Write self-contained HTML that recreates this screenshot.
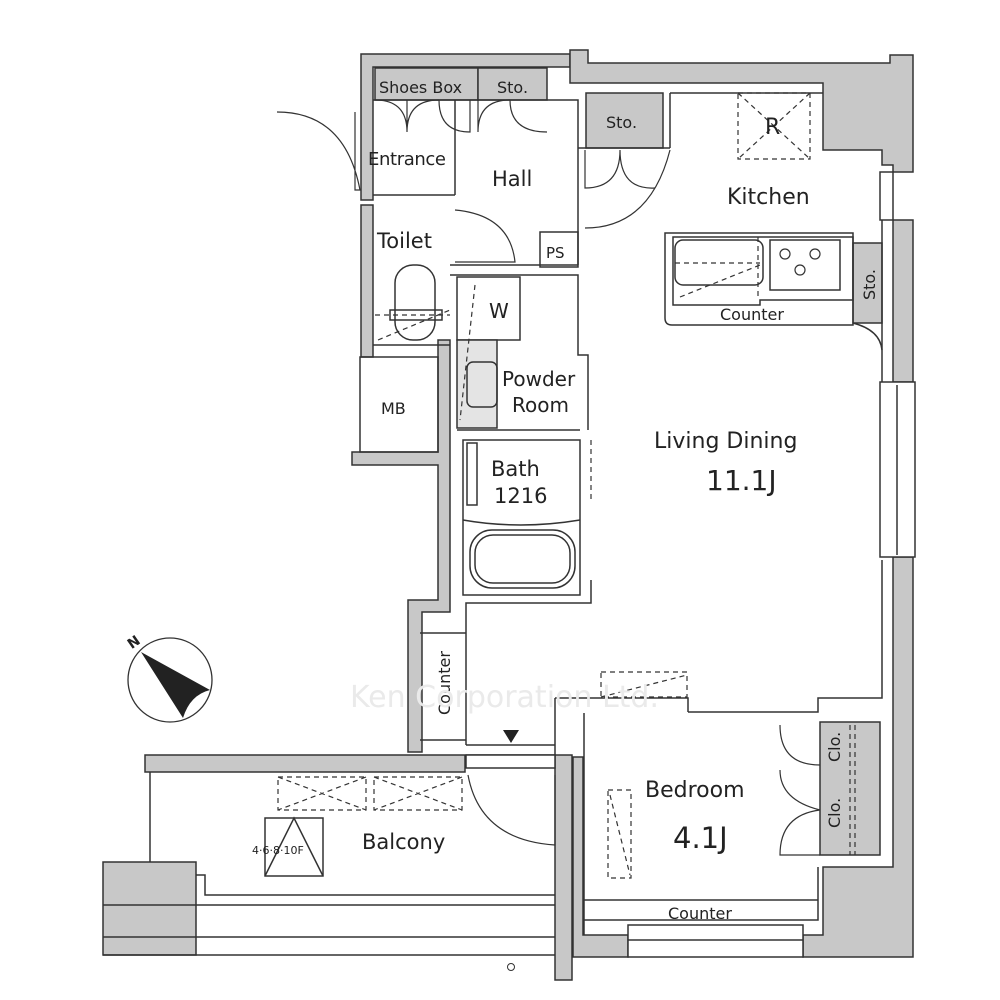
<!DOCTYPE html>
<html><head><meta charset="utf-8"><style>
html,body{margin:0;padding:0;background:#fff;width:1000px;height:1000px;overflow:hidden}
svg{display:block}
text{font-family:"DejaVu Sans","Liberation Sans",sans-serif;fill:#222}
</style></head><body>
<svg width="1000" height="1000" viewBox="0 0 1000 1000" xmlns="http://www.w3.org/2000/svg">
<g stroke="#333" stroke-width="1.5" fill="none">
<!-- gray walls -->
<g fill="#c8c8c8">
<path d="M361,54 H570 V67 H373 V200 H361 Z"/>
<path d="M570,50 H588 V63 H890 V55 H913 V172 H893 V165 H882 V150 H823 V83 H570 Z"/>
<path d="M893,220 H913 V382 H893 Z"/>
<path d="M893,557 H913 V957 H803 V935 H823 V867 H893 Z"/>
<path d="M573,757 H583 V935 H628 V957 H573 Z"/>
<path d="M361,205 H373 V357 H361 Z"/>
<path d="M352,452 H438 V340 H450 V612 H422 V752 H408 V600 H438 V465 H352 Z"/>
<path d="M145,755 H465 V772 H145 Z"/>
<path d="M555,755 H572 V980 H555 Z"/>
<rect x="103" y="862" width="93" height="93"/>
<rect x="375" y="68" width="103" height="32"/>
<rect x="478" y="68" width="69" height="32"/>
<rect x="586" y="93" width="77" height="55"/>
<rect x="853" y="243" width="29" height="80"/>
<rect x="820" y="722" width="60" height="133"/>
</g>
<!-- interior outlines -->
<path d="M373,100 H578 V265"/>
<path d="M455,100 V195 M373,195 H455 M373,345 H450"/>
<path d="M670,93 V148 M670,93 H823"/>
<path d="M578,148 H670"/>
<rect x="540" y="232" width="38" height="35"/>
<path d="M450,265 H578 M450,275 H578 V355 H588 V430"/>
<rect x="457" y="277" width="63" height="63"/>
<rect x="457" y="340" width="40" height="88" fill="#e4e4e4"/>
<rect x="467" y="362" width="30" height="45" rx="6"/>
<path d="M457,430 H580"/>
<rect x="463" y="440" width="117" height="155"/>
<rect x="467" y="443" width="10" height="62"/>
<path d="M463,520 Q520,530 580,520"/>
<rect x="470" y="530" width="105" height="58" rx="22"/>
<rect x="475" y="535" width="95" height="48" rx="18"/>
<path d="M591,580 V603 H466 V745 M420,633 H466 M420,740 H466"/>
<path d="M555,698 H688 V712 M688,712 H818 V698 H882 V560"/>
<path d="M882,382 V172 M882,220 V350"/>
<path d="M584,713 V935 M584,900 H818 M584,920 H818 V867"/>
<path d="M555,698 V745 M466,745 H555 V755 H466"/>
<!-- kitchen counter -->
<path d="M665,233 V318 Q665,325 672,325 H853 V233 H665 Z"/>
<path d="M673,237 H853 V300 H760 V305 H673 Z"/>
<rect x="675" y="240" width="88" height="45" rx="8"/>
<rect x="770" y="240" width="70" height="50"/>
<path d="M853,323 Q880,330 882,350"/>
<!-- windows -->
<rect x="880" y="172" width="13" height="48" fill="#fff"/>
<rect x="880" y="382" width="35" height="175" fill="#fff"/>
<path d="M897,385 V555"/>
<rect x="628" y="925" width="175" height="32" fill="#fff"/>
<path d="M628,940 H803"/>
<rect x="466" y="755" width="89" height="13" fill="#fff"/>
<!-- toilet -->
<rect x="395" y="265" width="40" height="75" rx="18"/>
<rect x="390" y="310" width="52" height="10"/>
<rect x="360" y="357" width="78" height="95"/>
<!-- balcony -->
<path d="M150,772 V862 M196,875 H205 V895 H555 M103,905 H555 M103,937 H555 M103,955 H555"/>
<rect x="265" y="818" width="58" height="58"/>
<path d="M265,876 L294,818 L323,876"/>
<!-- doors -->
<path d="M375,100 Q407,100 407,132 V100 M407,132 Q407,100 439,100 M439,100 Q439,132 470,132 V100 M478,100 V132 Q478,100 510,100 M510,100 Q510,132 547,132" stroke-width="1.2"/>
<path d="M455,210 Q510,215 515,262 H455" stroke-width="1.2"/>
<path d="M585,150 V188 Q620,188 620,150 Q620,190 655,188" stroke-width="1.2"/>
<path d="M585,228 Q650,228 670,150" stroke-width="1.2"/>
<path d="M277,112 Q345,112 360,190 H355 V112" stroke-width="1.2"/>
<path d="M468,775 Q480,840 555,845 V775" stroke-width="1.2"/>
<path d="M780,725 Q780,765 820,765 M780,770 Q780,800 820,810 Q780,815 780,855 H820" stroke-width="1.2"/>
<!-- dashed -->
<g stroke-dasharray="5,4" stroke-width="1.2">
<rect x="738" y="93" width="72" height="66"/><path d="M738,93 L810,159 M810,93 L738,159"/>
<path d="M758,237 V300 M680,297 L760,265 M675,263 H760"/>
<rect x="278" y="777" width="88" height="33"/><rect x="374" y="777" width="88" height="33"/>
<path d="M278,777 L366,810 M366,777 L278,810 M374,777 L462,810 M462,777 L374,810"/>
<rect x="601" y="672" width="86" height="25"/><path d="M601,697 L687,675"/>
<rect x="608" y="790" width="23" height="88"/><path d="M610,795 L630,875"/>
<path d="M850,725 V855 M855,725 V855"/>
<path d="M375,315 H450 M378,340 L450,310 M475,285 L460,420"/>
<path d="M591,440 V500"/>
</g>
</g>
<!-- burners -->
<g fill="none" stroke="#333" stroke-width="1.2">
<circle cx="785" cy="254" r="5"/><circle cx="815" cy="254" r="5"/><circle cx="800" cy="270" r="5"/>
</g>
<!-- compass -->
<circle cx="170" cy="680" r="42" fill="none" stroke="#333" stroke-width="1.3"/>
<path d="M141,652 L210,690 Q190,695 183,718 Z" fill="#222"/>
<text x="128" y="648" font-size="14" font-weight="bold" transform="rotate(-35 132 643)">N</text>
<path d="M503,730 H519 L511,743 Z" fill="#222"/>
<!-- labels -->
<g font-size="17">
<text x="379" y="93" font-size="16">Shoes Box</text>
<text x="497" y="93" font-size="16">Sto.</text>
<text x="606" y="128" font-size="16">Sto.</text>
<text x="368" y="165" font-size="18" textLength="78">Entrance</text>
<text x="492" y="186" font-size="21">Hall</text>
<text x="377" y="248" font-size="21">Toilet</text>
<text x="546" y="258" font-size="15">PS</text>
<text x="489" y="318" font-size="20">W</text>
<text x="502" y="386" font-size="20">Powder</text>
<text x="512" y="412" font-size="20">Room</text>
<text x="381" y="414" font-size="16">MB</text>
<text x="491" y="476" font-size="21">Bath</text>
<text x="494" y="503" font-size="21">1216</text>
<text x="765" y="134" font-size="22">R</text>
<text x="727" y="204" font-size="22">Kitchen</text>
<text x="720" y="320" font-size="16">Counter</text>
<text x="654" y="448" font-size="22">Living Dining</text>
<text x="706" y="490" font-size="28">11.1J</text>
<text x="645" y="797" font-size="22">Bedroom</text>
<text x="673" y="848" font-size="29">4.1J</text>
<text x="668" y="919" font-size="16">Counter</text>
<text x="362" y="849" font-size="21">Balcony</text>
<text x="252" y="854" font-size="11">4·6·8·10F</text>
</g>
<text font-size="16" transform="translate(450,715) rotate(-90)">Counter</text>
<text font-size="16" transform="translate(875,300) rotate(-90)">Sto.</text>
<text font-size="16" transform="translate(840,762) rotate(-90)">Clo.</text>
<text font-size="16" transform="translate(840,828) rotate(-90)">Clo.</text>
<text x="350" y="707" font-size="30" fill="#eee" style="fill:#eaeaea">Ken Corporation Ltd.</text>
<circle cx="511" cy="967" r="3.5" fill="none" stroke="#333"/>
</svg>
</body></html>
